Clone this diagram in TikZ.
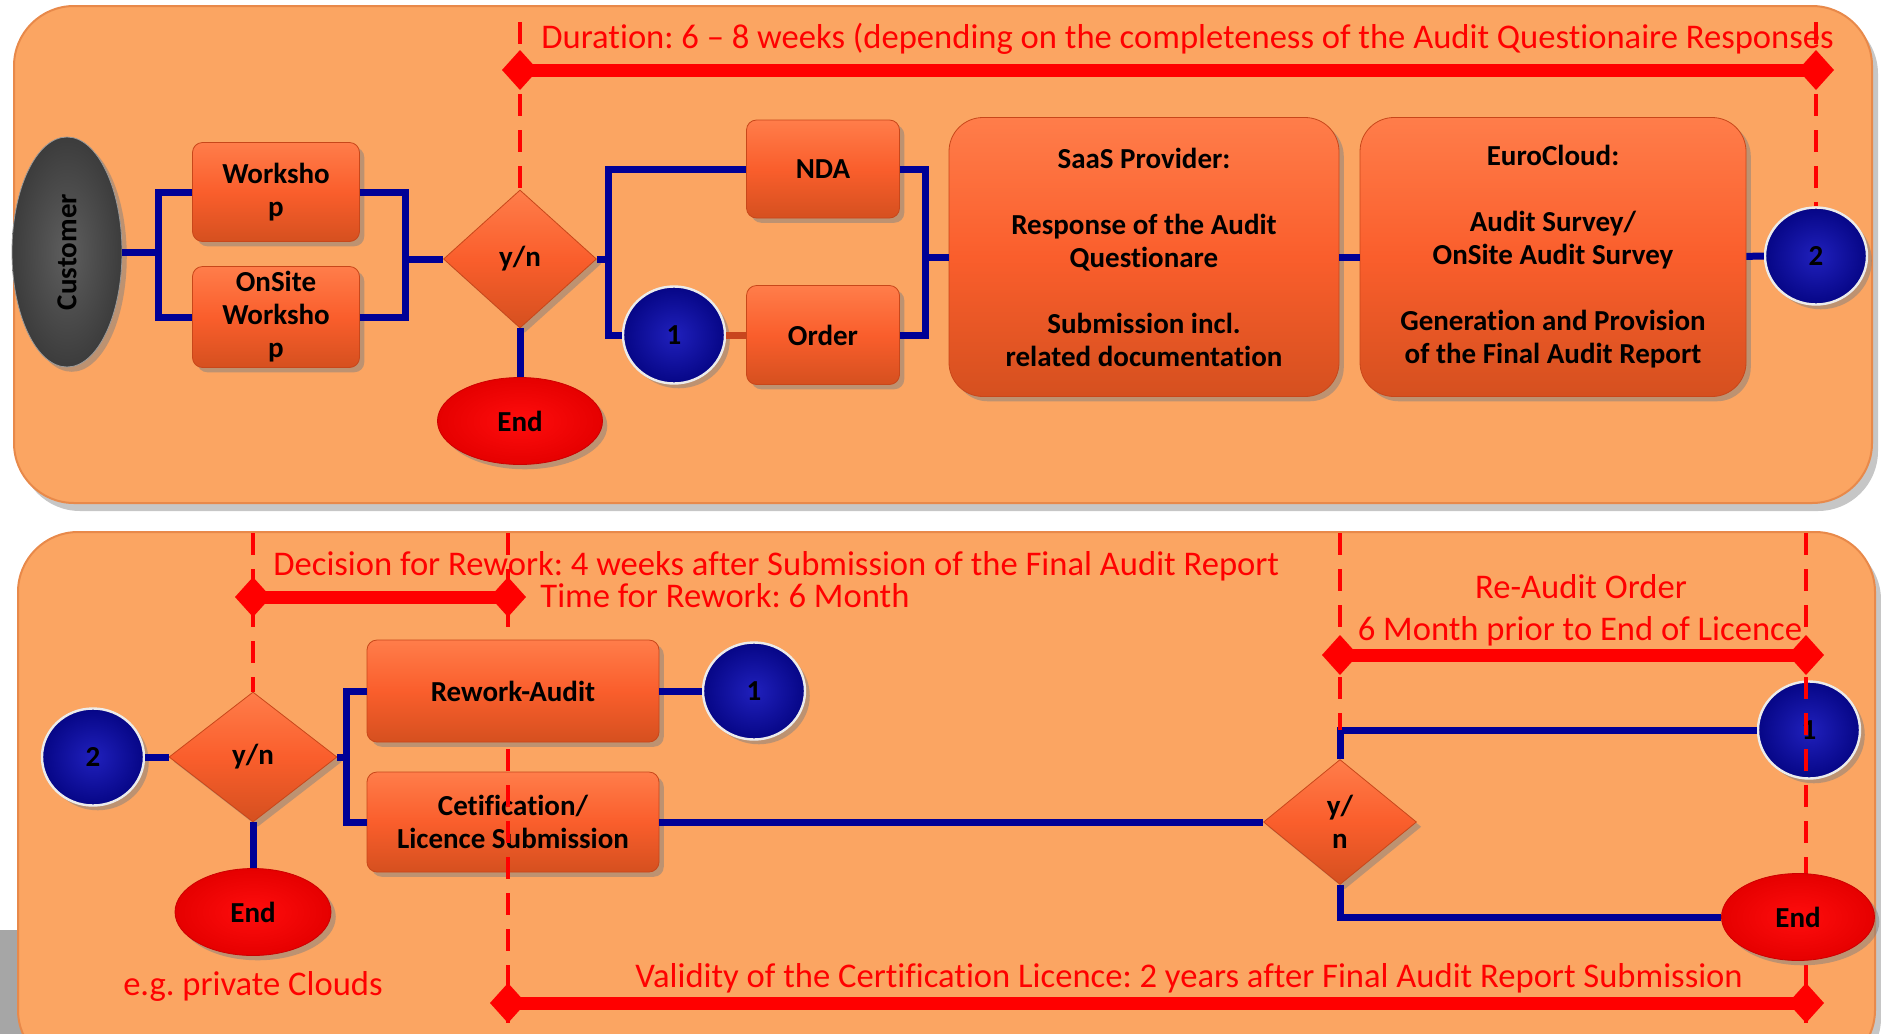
\documentclass[tikz,border=0pt]{standalone}
\usepackage{fontspec}
\setmainfont{Carlito}[Ligatures=NoCommon]
\usepackage{tikz}
\usetikzlibrary{positioning,shapes.geometric,arrows.meta,shadows}

\definecolor{panelfill}{HTML}{FBA562}
\definecolor{panelline}{HTML}{E8894A}
\definecolor{boxfill}{HTML}{FA5E2C}
\definecolor{boxtop}{HTML}{FF7D4A}
\definecolor{boxbot}{HTML}{D5501F}
\definecolor{boxline}{HTML}{C8471A}
\definecolor{linkblue}{HTML}{000096}
\definecolor{ballin}{HTML}{2020BC}
\definecolor{ballout}{HTML}{060686}
\definecolor{linkorange}{HTML}{C8461E}
\definecolor{custin}{HTML}{5E5E5E}
\definecolor{custout}{HTML}{3C3C3C}

\newcommand{\boxfont}{\fontsize{14.5}{16.5}\selectfont\bfseries}
\newcommand{\notefont}{\fontsize{17.3}{20}\selectfont}

\tikzstyle{panel}     = [draw=panelline, line width=1pt, fill=panelfill, rounded corners=30pt, drop shadow={shadow xshift=3pt, shadow yshift=-4pt, opacity=0.45}]
\tikzstyle{task}      = [rectangle, rounded corners=5pt, draw=boxline, top color=boxtop, bottom color=boxbot, middle color=boxfill, inner sep=0pt, align=center, font=\boxfont, drop shadow]
\tikzstyle{bigtask}   = [task, rounded corners=17pt]
\tikzstyle{choice}    = [diamond, draw=boxline, top color=boxtop, bottom color=boxbot, middle color=boxfill, inner sep=0pt, align=center, font=\boxfont, drop shadow]
\tikzstyle{jumper}    = [ellipse, draw=white!85!gray, line width=1.2pt, inner color=ballin, outer color=ballout, inner sep=0pt, font=\boxfont, minimum width=51pt, minimum height=48.5pt, drop shadow]
\tikzstyle{endball}   = [ellipse, draw=red!80!black, inner color=red!95!white, outer color=red!90!black, inner sep=0pt, font=\boxfont, minimum height=43.5pt, drop shadow]
\tikzstyle{link}      = [draw=linkblue, line width=3.5pt]
\tikzstyle{guide}     = [draw=red, line width=2pt, dash pattern=on 11pt off 7pt]
\tikzstyle{timespan}  = [draw=red, line width=6.5pt, {Diamond[length=18pt,width=20pt]}-{Diamond[length=18pt,width=20pt]}, shorten <=-9pt, shorten >=-9pt]
\tikzstyle{note}      = [text=red, font=\notefont, inner sep=0pt]

\begin{document}
\frenchspacing
\begin{tikzpicture}[x=0.5pt,y=-0.5pt]
	\useasboundingbox (0,0) rectangle (1881,1034);
	\fill[gray!70] (0,930) rectangle (22,1034);
	\draw[panel] (14,6) rectangle (1872,503);
	\draw[panel] (18,532) rectangle (1875,1070);

	% first phase
	\node[ellipse, draw=gray!80, inner color=custin, outer color=custout, minimum width=55pt, minimum height=115pt, inner sep=0pt, drop shadow] (cust) at (67,252) {\rotatebox{90}{\boxfont Customer}};
	\node[task, minimum width=83.5pt, minimum height=49.5pt] (ws) at (276,192) {Worksho\\p};
	\node[task, minimum width=83.5pt, minimum height=50.5pt] (ows) at (276,317) {OnSite\\Worksho\\p};
	\node[choice, minimum width=76.5pt, minimum height=69pt] (yn1) at (520,259) {y/n};
	\node[endball, minimum width=82.5pt] (end1) at (520,421) {End};
	\node[task, minimum width=76.5pt, minimum height=49pt] (nda) at (823,169) {NDA};
	\node[jumper] (c1a) at (674,335) {1};
	\node[task, minimum width=76.5pt, minimum height=49.5pt] (order) at (823,335) {Order};
	\node[bigtask, minimum width=195pt, minimum height=139.5pt] (saas) at (1144,257) {SaaS Provider:\\[16.5pt]Response of the Audit\\Questionare\\[16.5pt]Submission incl.\\related documentation};
	\node[bigtask, minimum width=193pt, minimum height=139.5pt] (euro) at (1553,257) {EuroCloud:\\[16.5pt]Audit Survey/\\OnSite Audit Survey\\[16.5pt]Generation and Provision\\of the Final Audit Report};
	\node[jumper] (c2a) at (1816,256) {2};

	\coordinate (j0) at (158,252);
	\coordinate (j1) at (405,259);
	\coordinate (j2) at (608,259);
	\coordinate (j3) at (925,257);
	\draw[link] (cust) -- (j0);
	\draw[link] (j0) |- (ws);
	\draw[link] (j0) |- (ows);
	\draw[link] (ws) -| (j1) -- (yn1);
	\draw[link] (ows) -| (j1);
	\draw[link] (yn1) -- (j2) |- (nda);
	\draw[link] (j2) |- (c1a);
	\draw[link, draw=linkorange] (c1a) -- (order);
	\draw[link] (nda) -| (j3) -- (saas);
	\draw[link] (order) -| (j3);
	\draw[link] (saas) -- (euro);
	\draw[link] (euro) -- (c2a);
	\draw[link] (yn1) -- (end1);

	\coordinate (t1) at (520,22);
	\coordinate (t2) at (1816,22);
	\coordinate (a1) at (520,70);
	\coordinate (a2) at (1816,70);
	\draw[guide] (t1) -- (yn1.north);
	\draw[guide] (t2) -- (c2a.north);
	\draw[timespan] (a1) -- (a2);
	\node[note, anchor=base west] (dur) at (541,48) {Duration: 6 – 8 weeks (depending on the completeness of the Audit Questionaire Responses};

	% second phase
	\node[jumper] (c2b) at (93,757) {2};
	\node[choice, minimum width=84pt, minimum height=65pt] (yn2) at (253,757) {y/n};
	\node[endball, minimum width=78pt] (end2) at (253,912) {End};
	\node[task, minimum width=146pt, minimum height=50pt] (cert) at (513,822) {Cetification/\\Licence Submission};
	\coordinate (g2) at (508,533);
	\coordinate (g3) at (508,1034);
	\draw[guide] (g2) -- (g3);
	\node[task, minimum width=146pt, minimum height=51pt] (rework) at (513,691) {Rework-Audit};
	\node[jumper] (c1b) at (754,691) {1};
	\node[choice, minimum width=76.5pt, minimum height=62.5pt] (yn3) at (1340,822) {y/\\n};
	\node[jumper] (c1c) at (1809,730) {1};
	\coordinate (g6) at (1806,533);
	\coordinate (g7) at (1806,1034);
	\draw[guide] (g6) -- (g7);
	\node[endball, minimum width=76.5pt] (end3) at (1798,917) {End};

	\coordinate (j4) at (346,757);
	\draw[link] (c2b) -- (yn2);
	\draw[link] (yn2) -- (j4) |- (rework);
	\draw[link] (j4) |- (cert);
	\draw[link] (rework) -- (c1b);
	\draw[link] (yn2) -- (end2);
	\draw[link] (cert) -- (yn3);
	\draw[link] (yn3.north) |- (c1c);
	\draw[link] (yn3.south) |- (end3);

	\coordinate (g1) at (253,533);
	\coordinate (g4) at (1340,533);
	\draw[guide] (g1) -- (yn2.north);
	\draw[guide] (g4) -- (g4 |- c1c);

	\coordinate (b1) at (253,597);
	\coordinate (b2) at (508,597);
	\coordinate (r1) at (1340,655);
	\coordinate (r2) at (1806,655);
	\coordinate (v1) at (508,1003);
	\coordinate (v2) at (1806,1003);
	\draw[timespan] (b1) -- (b2);
	\draw[timespan] (r1) -- (r2);
	\draw[timespan] (v1) -- (v2);

	\node[note, anchor=base west] (rwk) at (273,575) {Decision for Rework: 4 weeks after Submission of the Final Audit Report};
	\node[note, anchor=base west] (rwt) at (540,607) {Time for Rework: 6 Month};
	\node[note, anchor=base] (rao) at (1581,598) {Re-Audit Order};
	\node[note, anchor=base] (rap) at (1580,640) {6 Month prior to End of Licence};
	\node[note, anchor=base west] (val) at (635,987) {Validity of the Certification Licence: 2 years after Final Audit Report Submission};
	\node[note, anchor=base] (priv) at (253,995) {e.g. private Clouds};
\end{tikzpicture}
\end{document}
